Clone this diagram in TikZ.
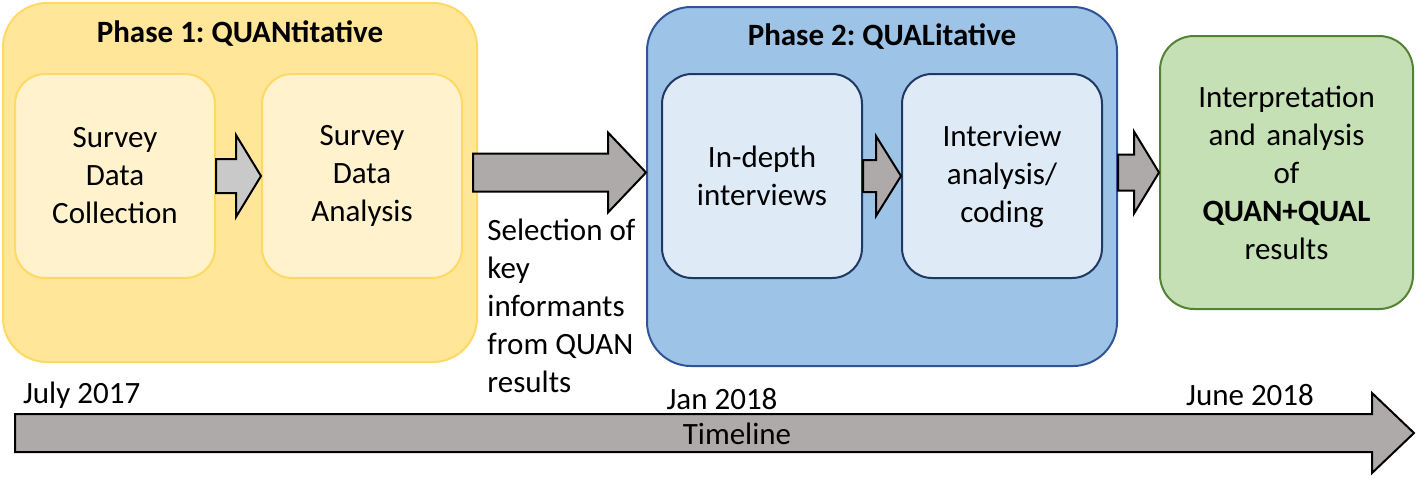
\documentclass[tikz,border=0pt]{standalone}
\usepackage{fontspec}
\setmainfont{Carlito}
\usetikzlibrary{positioning,calc}

\definecolor{quanfill}{HTML}{FFE699}
\definecolor{quanline}{HTML}{FFD966}
\definecolor{quaninner}{HTML}{FFF2CC}
\definecolor{qualfill}{HTML}{9DC3E6}
\definecolor{qualline}{HTML}{2F5597}
\definecolor{qualinner}{HTML}{DEEBF7}
\definecolor{qualinline}{HTML}{203864}
\definecolor{mixfill}{HTML}{C5E0B4}
\definecolor{mixline}{HTML}{548235}
\definecolor{arrfill}{HTML}{AEAAAA}
\definecolor{arrlight}{HTML}{C9C9C9}

\tikzset{
  txt/.style={font=\fontsize{15.5}{19}\selectfont\frenchspacing},
  phasebox/.style={rounded corners=22pt, line width=1pt, minimum width=#1, minimum height=179.5pt},
  stepbox/.style={rounded corners=15pt, line width=1pt, minimum width=100pt, minimum height=102pt,
                  txt, align=center, text width=90pt},
  arrbox/.style={draw=black, line width=1pt, fill=arrfill},
}

% block arrow: style, from, to, body half, head half, head length
\newcommand{\blockarr}[6]{%
  \path[#1] let \p1=(#2), \p2=(#3) in
    (\x1,\y2+#4) -- (\x2-#6,\y2+#4) -- (\x2-#6,\y2+#5) -- (\x2,\y2)
    -- (\x2-#6,\y2-#5) -- (\x2-#6,\y2-#4) -- (\x1,\y2-#4) -- cycle;
}

\begin{document}
\begin{tikzpicture}[x=0.5pt,y=-0.5pt]
  \useasboundingbox (0,0) rectangle (1418,478);

  % phase 1
  \node[phasebox=237pt, draw=quanline, fill=quanfill] (phase1) at (240,182.5) {};
  \node[txt, font=\fontsize{15.5}{19}\selectfont\bfseries\frenchspacing, below=6pt of phase1.north] (title1) {Phase 1: QUANtitative};
  \node[stepbox, draw=quanline, fill=quaninner] (collect) at (115,176) {Survey\\Data\\Collection};
  \node[stepbox, draw=quanline, fill=quaninner] (analyse) at (362,176) {Survey\\Data\\Analysis};

  % phase 2
  \node[phasebox=235pt, draw=qualline, fill=qualfill] (phase2) at (882,186.5) {};
  \node[txt, font=\fontsize{15.5}{19}\selectfont\bfseries\frenchspacing, below=5.5pt of phase2.north] (title2) {Phase 2: QUALitative};
  \node[stepbox, draw=qualinline, fill=qualinner] (interview) at (762,176) {In-depth\\interviews};
  \node[stepbox, draw=qualinline, fill=qualinner] (coding) at (1002,176) {Interview\\analysis/\\coding};

  % result
  \node[rounded corners=17pt, line width=1pt, draw=mixline, fill=mixfill, minimum width=126.5pt,
        minimum height=136.5pt, txt, align=center, text width=110pt] (interp) at (1286.5,172.5)
        {Interpretation\\and analysis\\of\\\textbf{QUAN+QUAL}\\results};

  % arrows
  \blockarr{arrbox, fill=arrlight}{collect.east}{analyse.west}{8.5pt}{20.5pt}{12.5pt}
  \blockarr{arrbox}{$(phase1.east)+(-5,0)$}{phase2.west |- interp.west}{9.5pt}{20pt}{19pt}
  \blockarr{arrbox}{interview.east}{coding.west}{8pt}{20pt}{12.5pt}
  \blockarr{arrbox}{phase2.east}{interp.west}{9pt}{20.5pt}{12.5pt}

  \node[txt, align=left, anchor=north west, inner sep=0pt] (select) at (487,219)
    {Selection of\\key\\informants\\from QUAN\\results};

  % timeline
  \coordinate (tlstart) at (15,433);
  \coordinate (tlend) at (1414,433);
  \blockarr{arrbox}{tlstart}{tlend}{9.5pt}{20pt}{21pt}
  \node[txt] (timeline) at (737,434) {Timeline};
  \node[txt, anchor=west] (july) at (16,395) {July 2017};
  \node[txt] (jan) at (722,399) {Jan 2018};
  \node[txt] (june) at (1250,395) {June 2018};
\end{tikzpicture}
\end{document}
